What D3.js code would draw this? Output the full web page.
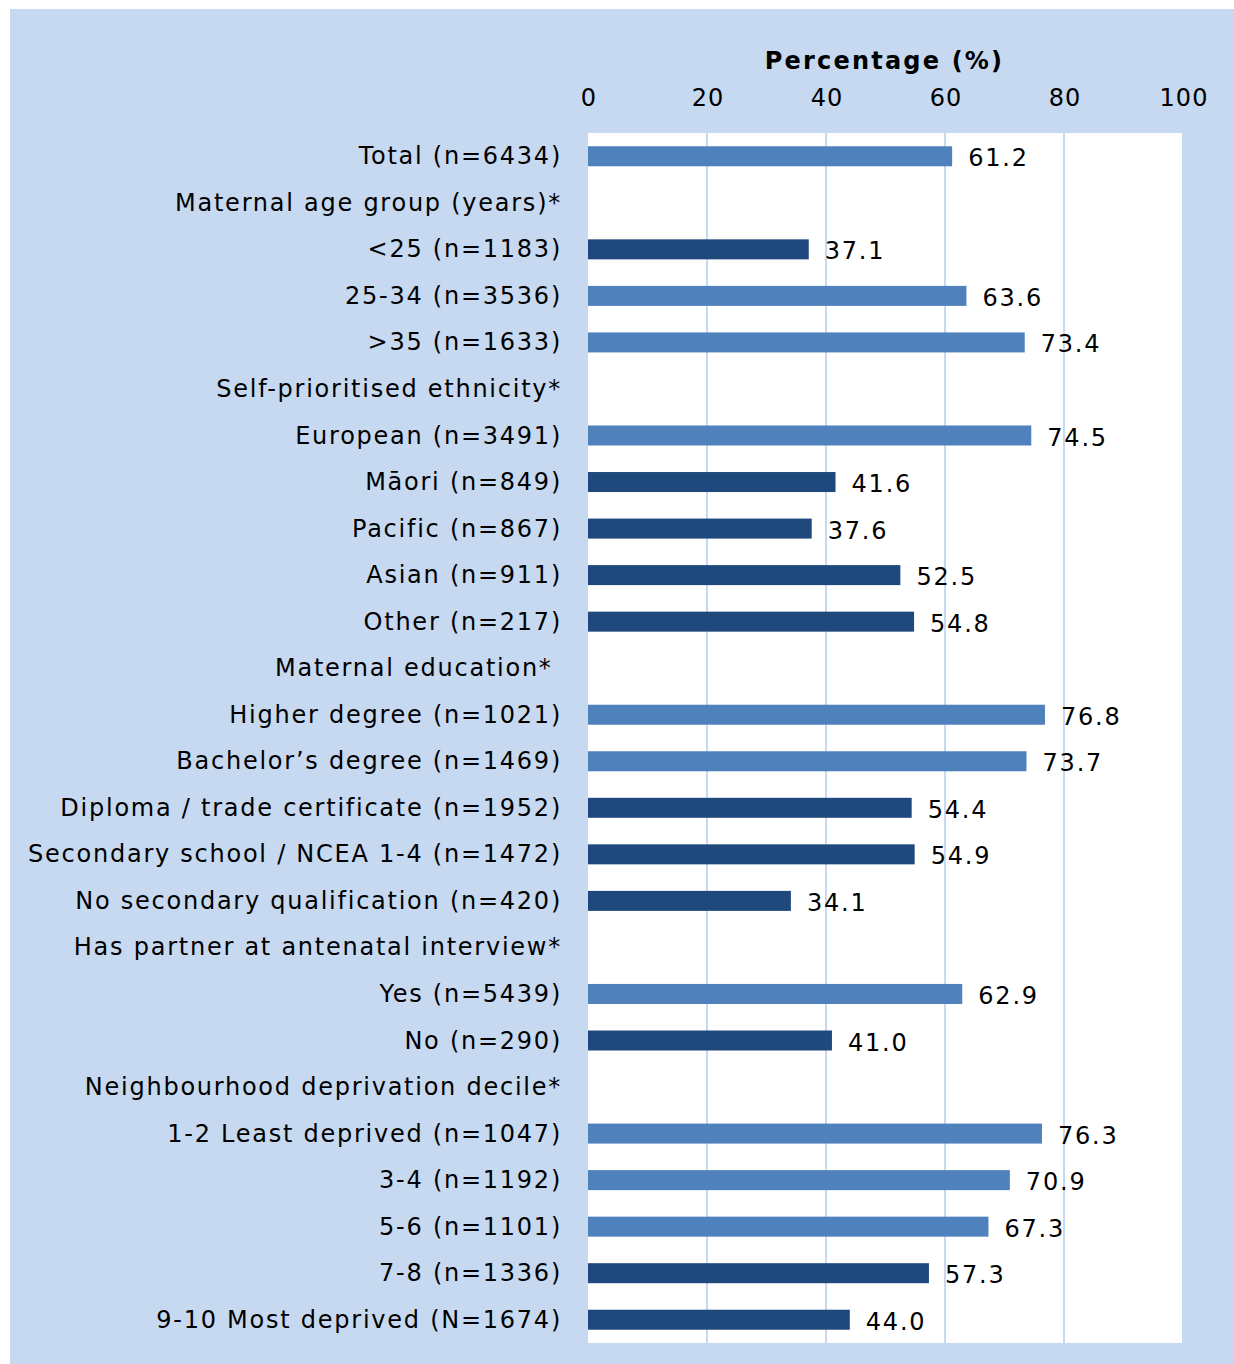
<!DOCTYPE html>
<html><head><meta charset="utf-8">
<script src="https://cdn.jsdelivr.net/npm/d3@7"></script>
<style>
body{margin:0;background:#fff;}
svg text{font-family:"DejaVu Sans",Verdana,sans-serif;}
</style></head>
<body><svg id="chart" width="1234" height="1364"></svg>
<script>
const categories = [
  "Total (n=6434)",
  "Maternal age group (years)*",
  "<25 (n=1183)",
  "25-34 (n=3536)",
  ">35 (n=1633)",
  "Self-prioritised ethnicity*",
  "European (n=3491)",
  "Māori (n=849)",
  "Pacific (n=867)",
  "Asian (n=911)",
  "Other (n=217)",
  "Maternal education* ",
  "Higher degree (n=1021)",
  "Bachelor’s degree (n=1469)",
  "Diploma / trade certificate (n=1952)",
  "Secondary school / NCEA 1-4 (n=1472)",
  "No secondary qualification (n=420)",
  "Has partner at antenatal interview*",
  "Yes (n=5439)",
  "No (n=290)",
  "Neighbourhood deprivation decile*",
  "1-2 Least deprived (n=1047)",
  "3-4 (n=1192)",
  "5-6 (n=1101)",
  "7-8 (n=1336)",
  "9-10 Most deprived (N=1674)"
];
const values = [61.2, null, 37.1, 63.6, 73.4, null, 74.5, 41.6, 37.6, 52.5, 54.8,
  null, 76.8, 73.7, 54.4, 54.9, 34.1, null, 62.9, 41.0, null, 76.3, 70.9, 67.3, 57.3, 44.0];
// "L" = lower than total (dark), "H" = not lower (light)
const groups = ["H", null, "L", "H", "H", null, "H", "L", "L", "L", "L",
  null, "H", "H", "L", "L", "L", null, "H", "L", null, "H", "H", "H", "L", "L"];
const tickValues = [0, 20, 40, 60, 80, 100];
const axisTitle = "Percentage (%)";

(function(){
const svg = d3.select("#chart");
svg.append("rect").attr("x",10).attr("y",9).attr("width",1224).attr("height",1355).attr("fill","#c6d9f0");

const pL = 588, pR = 1183, pT = 133, pB = 1343;
const x = d3.scaleLinear().domain([0,100]).range([pL,pR]);
const y = d3.scaleBand().domain(d3.range(categories.length)).range([pT,pB]).paddingInner(0.57).paddingOuter(0.285);

svg.append("rect").attr("x",pL).attr("y",pT).attr("width",pR-pL).attr("height",pB-pT).attr("fill","#fff");

svg.append("g").selectAll("line").data(tickValues.filter(t=>t>0)).join("line")
  .attr("x1",d=>x(d)).attr("x2",d=>x(d)).attr("y1",pT).attr("y2",pB)
  .attr("stroke","#c6d9f0").attr("stroke-width",2);

const axis = d3.axisTop(x).tickValues(tickValues).tickSize(0).tickPadding(0);
const ga = svg.append("g").attr("transform",`translate(0,${pT-27})`).call(axis);
ga.select(".domain").remove();
ga.selectAll("text").attr("font-size",24).attr("fill","#000").attr("font-family","DejaVu Sans, sans-serif")
  .attr("letter-spacing",1).attr("dx",0.5);

svg.append("text").attr("x",(pL+pR)/2-1).attr("y",69).attr("text-anchor","middle")
  .attr("font-size",24).attr("font-weight","bold").attr("letter-spacing",2.2).text(axisTitle);

const colors = {H:"#4f81bd", L:"#1f497d"};
const idx = d3.range(categories.length);
svg.append("g").selectAll("rect").data(idx.filter(i=>values[i]!=null)).join("rect")
  .attr("x",x(0)).attr("y",i=>y(i)).attr("width",i=>x(values[i])-x(0)).attr("height",y.bandwidth())
  .attr("fill",i=>colors[groups[i]]);

svg.append("g").selectAll("text").data(idx.filter(i=>values[i]!=null)).join("text")
  .attr("x",i=>x(values[i])+16).attr("y",i=>y(i)+y.bandwidth()/2+10)
  .attr("font-size",24).attr("fill","#000").attr("letter-spacing",1.8).text(i=>values[i].toFixed(1));

svg.append("g").selectAll("text").data(idx).join("text")
  .attr("x",562).attr("y",i=>y(i)+y.bandwidth()/2+8).attr("text-anchor","end")
  .attr("font-size",24).attr("fill","#000").attr("letter-spacing",1.75).style("white-space","pre")
  .text(i=>categories[i]);
})();
</script></body></html>
